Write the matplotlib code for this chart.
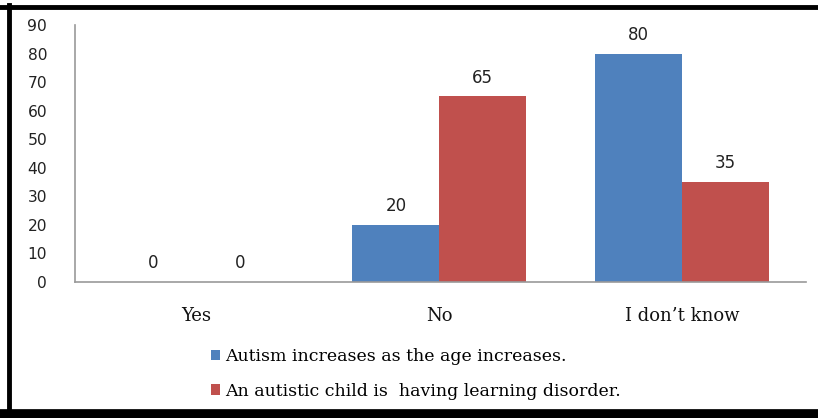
import matplotlib
matplotlib.use("Agg")
import matplotlib.pyplot as plt
from matplotlib.lines import Line2D
from matplotlib.patches import Patch
import numpy as np

categories = ["Yes", "No", "I don\u2019t know"]
series_names = ["Autism increases as the age increases.",
                "An autistic child is  having learning disorder."]
autism_age = [0, 20, 80]
learning_disorder = [0, 65, 35]
yticks = [0, 10, 20, 30, 40, 50, 60, 70, 80, 90]

blue = "#4F81BD"
red = "#C0504D"

fig = plt.figure(figsize=(8.18, 4.18), dpi=100)
ax = fig.add_axes([75/818, 1-282/418, (806-75)/818, (282-25)/418])

x = np.arange(len(categories))
w = 0.358
b1 = ax.bar(x - w/2, autism_age, w, color=blue)
b2 = ax.bar(x + w/2, learning_disorder, w, color=red)

for bars, vals in ((b1, autism_age), (b2, learning_disorder)):
    for rect, v in zip(bars, vals):
        ax.text(rect.get_x() + rect.get_width()/2, v + 6.6, str(v),
                ha="center", va="center", fontsize=12, color="#222222",
                family="DejaVu Sans")

ax.set_xlim(-0.5, 2.51)
ax.set_ylim(0, 90)
ax.set_yticks(yticks)
ax.set_yticklabels([str(t) for t in yticks], fontsize=11.2, color="#222222",
                   family="DejaVu Sans")
ax.set_xticks(x)
ax.set_xticklabels(categories, fontsize=13, family="DejaVu Serif", color="#111111")
ax.tick_params(axis="both", length=0)
ax.tick_params(axis="y", pad=20)
ax.tick_params(axis="x", pad=18)
for s in ("top", "right"):
    ax.spines[s].set_visible(False)
for s in ("left", "bottom"):
    ax.spines[s].set_color("#999999")
    ax.spines[s].set_linewidth(1.2)

handles = [Patch(facecolor=blue), Patch(facecolor=red)]
leg = fig.legend(handles, series_names, loc="center left",
                 bbox_to_anchor=(202/818, 1-374/418), frameon=False,
                 prop={"family": "DejaVu Serif", "size": 12.5},
                 handlelength=0.55, handleheight=0.55, handletextpad=0.3,
                 labelspacing=1.0, borderpad=0)

# outer frame
fig.add_artist(Line2D([0, 1], [1-7/418, 1-7/418], color="black", lw=3.5,
                      transform=fig.transFigure))
fig.add_artist(Line2D([8.5/818, 8.5/818], [0, 1-5/418], color="black", lw=3.5,
                      transform=fig.transFigure))
fig.add_artist(Line2D([0, 1], [4/418, 4/418], color="black", lw=7,
                      transform=fig.transFigure))

fig.savefig("out.png", dpi=100)
